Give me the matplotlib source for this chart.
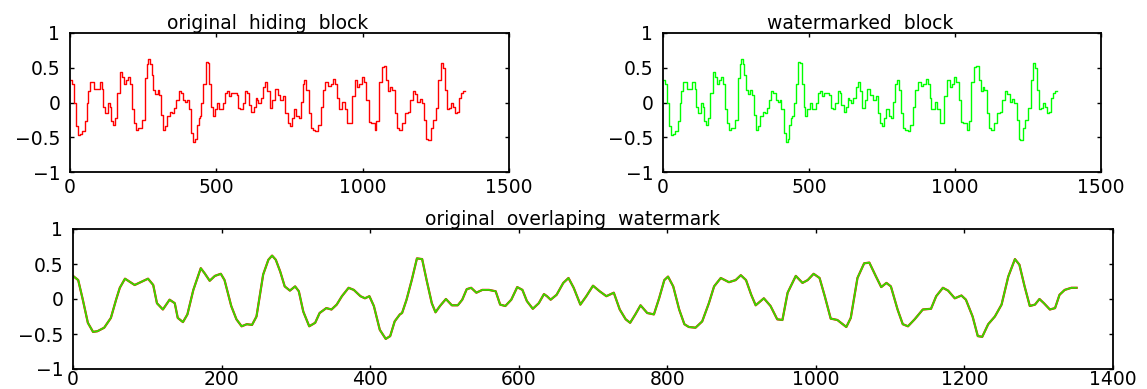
import numpy as np
import matplotlib
matplotlib.use("Agg")
import matplotlib.pyplot as plt

# sample index and amplitude (same signal in all panels)
idx = [0, 7, 13, 20, 27, 33, 42, 51, 58, 63, 70, 83, 101, 108, 113, 121, 130, 137, 141, 148,
       154, 162, 172, 177, 184, 191, 199, 204, 213, 220, 227, 234, 241, 247, 256, 263, 268, 273,
       279, 285, 292, 299, 304, 310, 318, 326, 332, 341, 348, 355, 362, 371, 378, 387, 393, 399,
       405, 413, 421, 427, 433, 440, 443, 449, 456, 463, 470, 476, 483, 488, 494, 502, 510, 518,
       524, 530, 536, 543, 551, 560, 569, 575, 582, 590, 598, 605, 611, 619, 627, 634, 638, 643,
       651, 660, 667, 674, 683, 691, 700, 709, 718, 728, 736, 744, 750, 757, 764, 773, 782, 789,
       796, 801, 808, 816, 823, 829, 838, 847, 856, 863, 872, 883, 892, 899, 906, 913, 919, 930,
       939, 948, 955, 962, 973, 982, 989, 997, 1005, 1012, 1020, 1029, 1041, 1047, 1056, 1065,
       1072, 1081, 1088, 1095, 1101, 1110, 1117, 1124, 1133, 1144, 1155, 1162, 1171, 1178, 1187,
       1196, 1202, 1211, 1218, 1224, 1232, 1241, 1250, 1259, 1268, 1274, 1281, 1288, 1295, 1301,
       1307, 1315, 1322, 1328, 1335, 1344, 1351]
amp = [0.33, 0.27, 0.00, -0.34, -0.47, -0.46, -0.41, -0.27, -0.01, 0.16, 0.29, 0.20, 0.29, 0.20,
       -0.06, -0.15, -0.01, -0.06, -0.27, -0.33, -0.22, 0.13, 0.44, 0.37, 0.26, 0.33, 0.36, 0.27,
       -0.10, -0.29, -0.39, -0.36, -0.37, -0.25, 0.35, 0.56, 0.62, 0.56, 0.39, 0.18, 0.12, 0.18,
       0.11, -0.18, -0.39, -0.34, -0.20, -0.13, -0.15, -0.08, 0.04, 0.16, 0.13, 0.04, 0.01, 0.04,
       -0.10, -0.44, -0.57, -0.53, -0.32, -0.22, -0.20, -0.01, 0.27, 0.58, 0.57, 0.27, -0.06, -0.19,
       -0.10, 0.00, -0.09, -0.09, -0.01, 0.14, 0.16, 0.09, 0.13, 0.13, 0.11, -0.08, -0.10, -0.01,
       0.17, 0.13, -0.03, -0.14, -0.06, 0.07, 0.04, -0.01, 0.06, 0.23, 0.30, 0.16, -0.08, 0.04,
       0.19, 0.11, 0.04, 0.09, -0.15, -0.29, -0.34, -0.22, -0.09, -0.20, -0.22, 0.01, 0.27, 0.32,
       0.18, -0.15, -0.36, -0.40, -0.41, -0.32, -0.06, 0.18, 0.30, 0.24, 0.27, 0.34, 0.27, 0.06,
       -0.09, 0.01, -0.10, -0.29, -0.30, 0.09, 0.33, 0.23, 0.27, 0.36, 0.30, 0.04, -0.28, -0.30,
       -0.40, -0.27, 0.30, 0.51, 0.52, 0.32, 0.17, 0.23, 0.18, -0.15, -0.36, -0.39, -0.29, -0.15,
       -0.14, 0.04, 0.16, 0.12, 0.01, 0.05, -0.01, -0.25, -0.53, -0.54, -0.36, -0.25, -0.08, 0.32,
       0.57, 0.49, 0.18, -0.10, -0.08, 0.00, -0.06, -0.15, -0.13, 0.06, 0.13, 0.16, 0.16]

titles = ["original  hiding  block", "watermarked  block", "original  overlaping  watermark"]
yticks = [-1, -0.5, 0, 0.5, 1]
ytick_labels = ["\u22121", "\u22120.5", "0", "0.5", "1"]

plt.rcParams['font.family'] = ['DejaVu Sans']

fig = plt.figure(figsize=(11.47, 3.89), dpi=100)
ax1 = fig.add_axes([70/1147, 1-172/389, 439/1147, 139/389])
ax2 = fig.add_axes([663/1147, 1-172/389, 438/1147, 139/389])
ax3 = fig.add_axes([73/1147, 1-369/389, 1040/1147, 140/389])


def style(ax, xmax, xticks, xpad=4):
    ax.set_xlim(0, xmax)
    ax.set_ylim(-1, 1)
    ax.set_xticks(xticks)
    ax.set_yticks(yticks)
    ax.set_yticklabels(ytick_labels)
    ax.tick_params(direction='in', top=True, right=True, length=3, width=1,
                   labelsize=13.5)
    ax.tick_params(axis='x', pad=xpad)
    ax.tick_params(axis='y', pad=7)
    for s in ax.spines.values():
        s.set_linewidth(1.3)


ax1.plot(idx, amp, drawstyle='steps-post', color='#ff0000', lw=1)
style(ax1, 1500, [0, 500, 1000, 1500])
ax1.set_title(titles[0], fontsize=13.5, pad=3, x=0.45)

ax2.plot(idx, amp, drawstyle='steps-post', color='#00ff00', lw=1)
style(ax2, 1500, [0, 500, 1000, 1500])
ax2.set_title(titles[1], fontsize=13.5, pad=3, x=0.45)

ax3.plot(idx, amp, color='#ff0000', lw=1.6)
ax3.plot(idx, amp, color='#33dd00', lw=1.3)
style(ax3, 1400, [0, 200, 400, 600, 800, 1000, 1200, 1400], xpad=1)
ax3.set_title(titles[2], fontsize=13.5, pad=3, x=0.48)

fig.savefig("out.png", dpi=100)
